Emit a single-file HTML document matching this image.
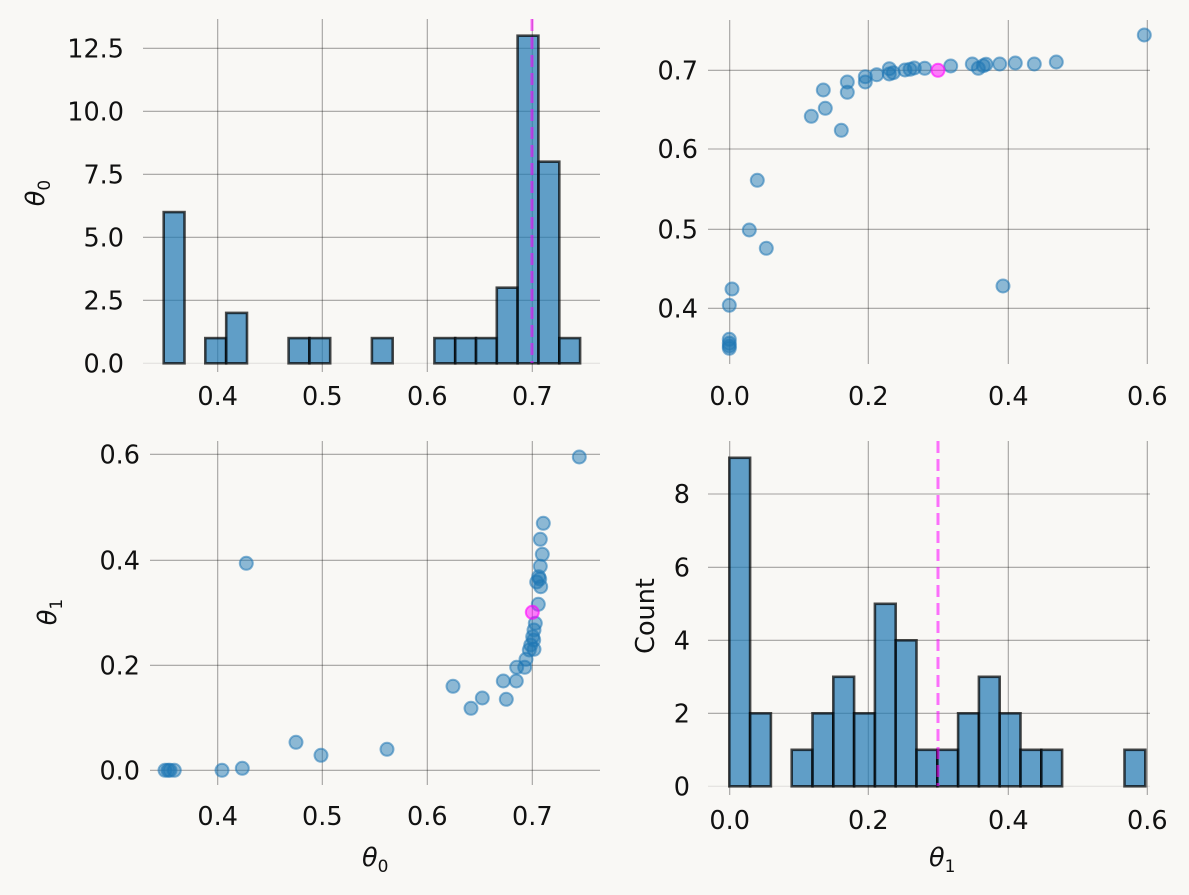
<!DOCTYPE html>
<html><head><meta charset="utf-8"><style>
body{margin:0;background:#f9f8f5;}
svg{display:block;font-family:"DejaVu Sans","Liberation Sans",sans-serif;}
.g{stroke:#000;stroke-opacity:.35;stroke-width:1.1;}
.b{fill:#1f77b4;fill-opacity:.7;stroke:#000;stroke-opacity:.7;stroke-width:2.6;}
.p{fill:#1f77b4;fill-opacity:.5;stroke:#1f77b4;stroke-opacity:.55;stroke-width:2;}
.t{font-size:25.5px;fill:#111;}
.m{stroke:#ff00ff;stroke-opacity:.55;stroke-width:3;stroke-dasharray:12,6;}
</style></head><body>
<svg width="1189" height="895" viewBox="0 0 1189 895">
<rect width="1189" height="895" fill="#f9f8f5"/>
<!-- TOP LEFT -->
<g>
<line class="g" x1="143" y1="48.3" x2="600" y2="48.3"/>
<line class="g" x1="143" y1="111.3" x2="600" y2="111.3"/>
<line class="g" x1="143" y1="174.3" x2="600" y2="174.3"/>
<line class="g" x1="143" y1="237.3" x2="600" y2="237.3"/>
<line class="g" x1="143" y1="300.3" x2="600" y2="300.3"/>
<line x1="143" y1="363.3" x2="600" y2="363.3" stroke="#000" stroke-opacity=".1"/>
<line class="g" x1="217.7" y1="19" x2="217.7" y2="372"/>
<line class="g" x1="322.3" y1="19" x2="322.3" y2="372"/>
<line class="g" x1="427.3" y1="19" x2="427.3" y2="372"/>
<line class="g" x1="532.3" y1="19" x2="532.3" y2="372"/>
<rect class="b" x="163.7" y="212.1" width="20.8" height="151.2"/>
<rect class="b" x="205.3" y="338.1" width="20.8" height="25.2"/>
<rect class="b" x="226.2" y="312.9" width="20.8" height="50.4"/>
<rect class="b" x="288.6" y="338.1" width="20.8" height="25.2"/>
<rect class="b" x="309.4" y="338.1" width="20.8" height="25.2"/>
<rect class="b" x="371.9" y="338.1" width="20.8" height="25.2"/>
<rect class="b" x="434.4" y="338.1" width="20.8" height="25.2"/>
<rect class="b" x="455.2" y="338.1" width="20.8" height="25.2"/>
<rect class="b" x="476.0" y="338.1" width="20.8" height="25.2"/>
<rect class="b" x="496.8" y="287.7" width="20.8" height="75.6"/>
<rect class="b" x="517.6" y="35.7" width="20.8" height="327.6"/>
<rect class="b" x="538.5" y="161.7" width="20.8" height="201.6"/>
<rect class="b" x="559.3" y="338.1" width="20.8" height="25.2"/>
<line class="m" x1="532" y1="19" x2="532" y2="363"/>
<g class="t" text-anchor="end">
<text x="124" y="57.5">12.5</text><text x="124" y="120.5">10.0</text><text x="124" y="183.5">7.5</text>
<text x="124" y="246.5">5.0</text><text x="124" y="309.5">2.5</text><text x="124" y="372.5">0.0</text>
</g>
<g class="t" text-anchor="middle">
<text x="217.7" y="405">0.4</text><text x="322.3" y="405">0.5</text><text x="427.3" y="405">0.6</text><text x="532.3" y="405">0.7</text>
</g>
<text class="t" transform="translate(44,193) rotate(-90)" text-anchor="middle"><tspan font-style="italic">θ</tspan><tspan font-size="17" dy="6">0</tspan></text>
</g>
<!-- TOP RIGHT -->
<g>
<line class="g" x1="708" y1="70.3" x2="1150" y2="70.3"/>
<line class="g" x1="708" y1="149" x2="1150" y2="149"/>
<line class="g" x1="708" y1="229.3" x2="1150" y2="229.3"/>
<line class="g" x1="708" y1="308.3" x2="1150" y2="308.3"/>
<line class="g" x1="729.7" y1="20" x2="729.7" y2="364"/>
<line class="g" x1="868.3" y1="20" x2="868.3" y2="364"/>
<line class="g" x1="1008.3" y1="20" x2="1008.3" y2="364"/>
<line class="g" x1="1147.3" y1="20" x2="1147.3" y2="364"/>
<g class="p">
<circle cx="1144.3" cy="35" r="6.5"/><circle cx="1056.3" cy="62" r="6.5"/><circle cx="1034.3" cy="64" r="6.5"/>
<circle cx="1015.3" cy="63" r="6.5"/><circle cx="999.7" cy="64" r="6.5"/><circle cx="986" cy="64.3" r="6.5"/>
<circle cx="983.3" cy="65.7" r="6.5"/><circle cx="978.3" cy="68.3" r="6.5"/><circle cx="972.3" cy="64" r="6.5"/>
<circle cx="950.7" cy="66" r="6.5"/><circle cx="924.7" cy="68.3" r="6.5"/><circle cx="914.3" cy="68" r="6.5"/>
<circle cx="910" cy="69.3" r="6.5"/><circle cx="905" cy="70" r="6.5"/><circle cx="893.3" cy="72.7" r="6.5"/>
<circle cx="889.3" cy="68.7" r="6.5"/><circle cx="889.3" cy="74" r="6.5"/><circle cx="876.7" cy="74.7" r="6.5"/>
<circle cx="865.3" cy="76.7" r="6.5"/><circle cx="865.3" cy="82" r="6.5"/><circle cx="847.3" cy="82" r="6.5"/>
<circle cx="847.3" cy="92.3" r="6.5"/><circle cx="823.3" cy="90" r="6.5"/><circle cx="825.3" cy="108.3" r="6.5"/>
<circle cx="811.3" cy="116.3" r="6.5"/><circle cx="841.3" cy="130.3" r="6.5"/><circle cx="757.3" cy="180.3" r="6.5"/>
<circle cx="749.3" cy="230" r="6.5"/><circle cx="766.3" cy="248.3" r="6.5"/><circle cx="732" cy="289" r="6.5"/>
<circle cx="729.3" cy="305.3" r="6.5"/><circle cx="1003" cy="286" r="6.5"/><circle cx="729.3" cy="339.3" r="6.5"/>
<circle cx="729.3" cy="343.3" r="6.5"/><circle cx="729.3" cy="348.3" r="6.5"/><circle cx="729.3" cy="346" r="6.5"/>
</g>
<circle cx="938" cy="70.3" r="6.5" fill="#ff00ff" fill-opacity=".5" stroke="#ff00ff" stroke-opacity=".6" stroke-width="2"/>
<g class="t" text-anchor="end">
<text x="698" y="79.5">0.7</text><text x="698" y="158.2">0.6</text><text x="698" y="238.5">0.5</text><text x="698" y="317.5">0.4</text>
</g>
<g class="t" text-anchor="middle">
<text x="729.7" y="405">0.0</text><text x="868.3" y="405">0.2</text><text x="1008.3" y="405">0.4</text><text x="1147.3" y="405">0.6</text>
</g>
</g>
<!-- BOTTOM LEFT -->
<g>
<line class="g" x1="150" y1="454.3" x2="600" y2="454.3"/>
<line class="g" x1="150" y1="560.3" x2="600" y2="560.3"/>
<line class="g" x1="150" y1="665.3" x2="600" y2="665.3"/>
<line class="g" x1="150" y1="770.3" x2="600" y2="770.3"/>
<line class="g" x1="217.7" y1="441" x2="217.7" y2="785"/>
<line class="g" x1="322.3" y1="441" x2="322.3" y2="785"/>
<line class="g" x1="427.3" y1="441" x2="427.3" y2="785"/>
<line class="g" x1="532.3" y1="441" x2="532.3" y2="785"/>
<g class="p">
<circle cx="579.3" cy="457" r="6.5"/><circle cx="543.3" cy="523.3" r="6.5"/><circle cx="540.3" cy="539.3" r="6.5"/>
<circle cx="542.3" cy="554.3" r="6.5"/><circle cx="540.3" cy="566.3" r="6.5"/><circle cx="538.7" cy="576.7" r="6.5"/>
<circle cx="539.7" cy="579" r="6.5"/><circle cx="536.7" cy="582" r="6.5"/><circle cx="540.7" cy="586.7" r="6.5"/>
<circle cx="538.3" cy="604.3" r="6.5"/><circle cx="535.3" cy="623.3" r="6.5"/><circle cx="534" cy="630" r="6.5"/>
<circle cx="532.7" cy="636.7" r="6.5"/><circle cx="533.7" cy="640" r="6.5"/><circle cx="530.7" cy="645" r="6.5"/>
<circle cx="529.3" cy="650" r="6.5"/><circle cx="534" cy="649.3" r="6.5"/><circle cx="526" cy="659.3" r="6.5"/>
<circle cx="524.7" cy="667.3" r="6.5"/><circle cx="516.7" cy="667.3" r="6.5"/><circle cx="516.3" cy="681" r="6.5"/>
<circle cx="503.3" cy="681" r="6.5"/><circle cx="506.3" cy="699.3" r="6.5"/><circle cx="482.3" cy="698" r="6.5"/>
<circle cx="471" cy="708.3" r="6.5"/><circle cx="453" cy="686.3" r="6.5"/><circle cx="387" cy="749.3" r="6.5"/>
<circle cx="321" cy="755.3" r="6.5"/><circle cx="296" cy="742.3" r="6.5"/><circle cx="242.3" cy="768.3" r="6.5"/>
<circle cx="222" cy="770.3" r="6.5"/><circle cx="165" cy="770.3" r="6.5"/><circle cx="168" cy="770.3" r="6.5"/>
<circle cx="170" cy="770.3" r="6.5"/><circle cx="174.3" cy="770.3" r="6.5"/><circle cx="246.3" cy="563.3" r="6.5"/>
</g>
<circle cx="532.3" cy="612.3" r="6.5" fill="#ff00ff" fill-opacity=".5" stroke="#ff00ff" stroke-opacity=".6" stroke-width="2"/>
<g class="t" text-anchor="end">
<text x="140" y="463.5">0.6</text><text x="140" y="569.5">0.4</text><text x="140" y="674.5">0.2</text><text x="140" y="779.5">0.0</text>
</g>
<g class="t" text-anchor="middle">
<text x="217.7" y="825">0.4</text><text x="322.3" y="825">0.5</text><text x="427.3" y="825">0.6</text><text x="532.3" y="825">0.7</text>
</g>
<text class="t" x="362" y="866"><tspan font-style="italic">θ</tspan><tspan font-size="17" dy="6">0</tspan></text>
<text class="t" transform="translate(56,612) rotate(-90)" text-anchor="middle"><tspan font-style="italic">θ</tspan><tspan font-size="17" dy="6">1</tspan></text>
</g>
<!-- BOTTOM RIGHT -->
<g>
<line class="g" x1="708" y1="494" x2="1150" y2="494"/>
<line class="g" x1="708" y1="567.3" x2="1150" y2="567.3"/>
<line class="g" x1="708" y1="640.3" x2="1150" y2="640.3"/>
<line class="g" x1="708" y1="713.3" x2="1150" y2="713.3"/>
<line x1="708" y1="786.3" x2="1150" y2="786.3" stroke="#000" stroke-opacity=".1"/>
<line class="g" x1="729.7" y1="441" x2="729.7" y2="795"/>
<line class="g" x1="868.3" y1="441" x2="868.3" y2="795"/>
<line class="g" x1="1008.3" y1="441" x2="1008.3" y2="795"/>
<line class="g" x1="1147.3" y1="441" x2="1147.3" y2="795"/>
<rect class="b" x="729.3" y="457.8" width="20.8" height="328.5"/>
<rect class="b" x="750.1" y="713.3" width="20.8" height="73"/>
<rect class="b" x="791.7" y="749.8" width="20.8" height="36.5"/>
<rect class="b" x="812.5" y="713.3" width="20.8" height="73"/>
<rect class="b" x="833.3" y="676.8" width="20.8" height="109.5"/>
<rect class="b" x="854.1" y="713.3" width="20.8" height="73"/>
<rect class="b" x="874.9" y="603.8" width="20.8" height="182.5"/>
<rect class="b" x="895.7" y="640.3" width="20.8" height="146"/>
<rect class="b" x="916.5" y="749.8" width="20.8" height="36.5"/>
<rect class="b" x="937.3" y="749.8" width="20.8" height="36.5"/>
<rect class="b" x="958.1" y="713.3" width="20.8" height="73"/>
<rect class="b" x="978.9" y="676.8" width="20.8" height="109.5"/>
<rect class="b" x="999.7" y="713.3" width="20.8" height="73"/>
<rect class="b" x="1020.5" y="749.8" width="20.8" height="36.5"/>
<rect class="b" x="1041.3" y="749.8" width="20.8" height="36.5"/>
<rect class="b" x="1124.5" y="749.8" width="20.8" height="36.5"/>
<line class="m" x1="938" y1="441" x2="938" y2="786"/>
<g class="t" text-anchor="end">
<text x="690" y="503">8</text><text x="690" y="576.5">6</text><text x="690" y="649.5">4</text><text x="690" y="722.5">2</text><text x="690" y="795.5">0</text>
</g>
<g class="t" text-anchor="middle">
<text x="729.7" y="829">0.0</text><text x="868.3" y="829">0.2</text><text x="1008.3" y="829">0.4</text><text x="1147.3" y="829">0.6</text>
</g>
<text class="t" x="929" y="866"><tspan font-style="italic">θ</tspan><tspan font-size="17" dy="6">1</tspan></text>
<text class="t" transform="translate(654,616) rotate(-90)" text-anchor="middle">Count</text>
</g>
</svg>
</body></html>
